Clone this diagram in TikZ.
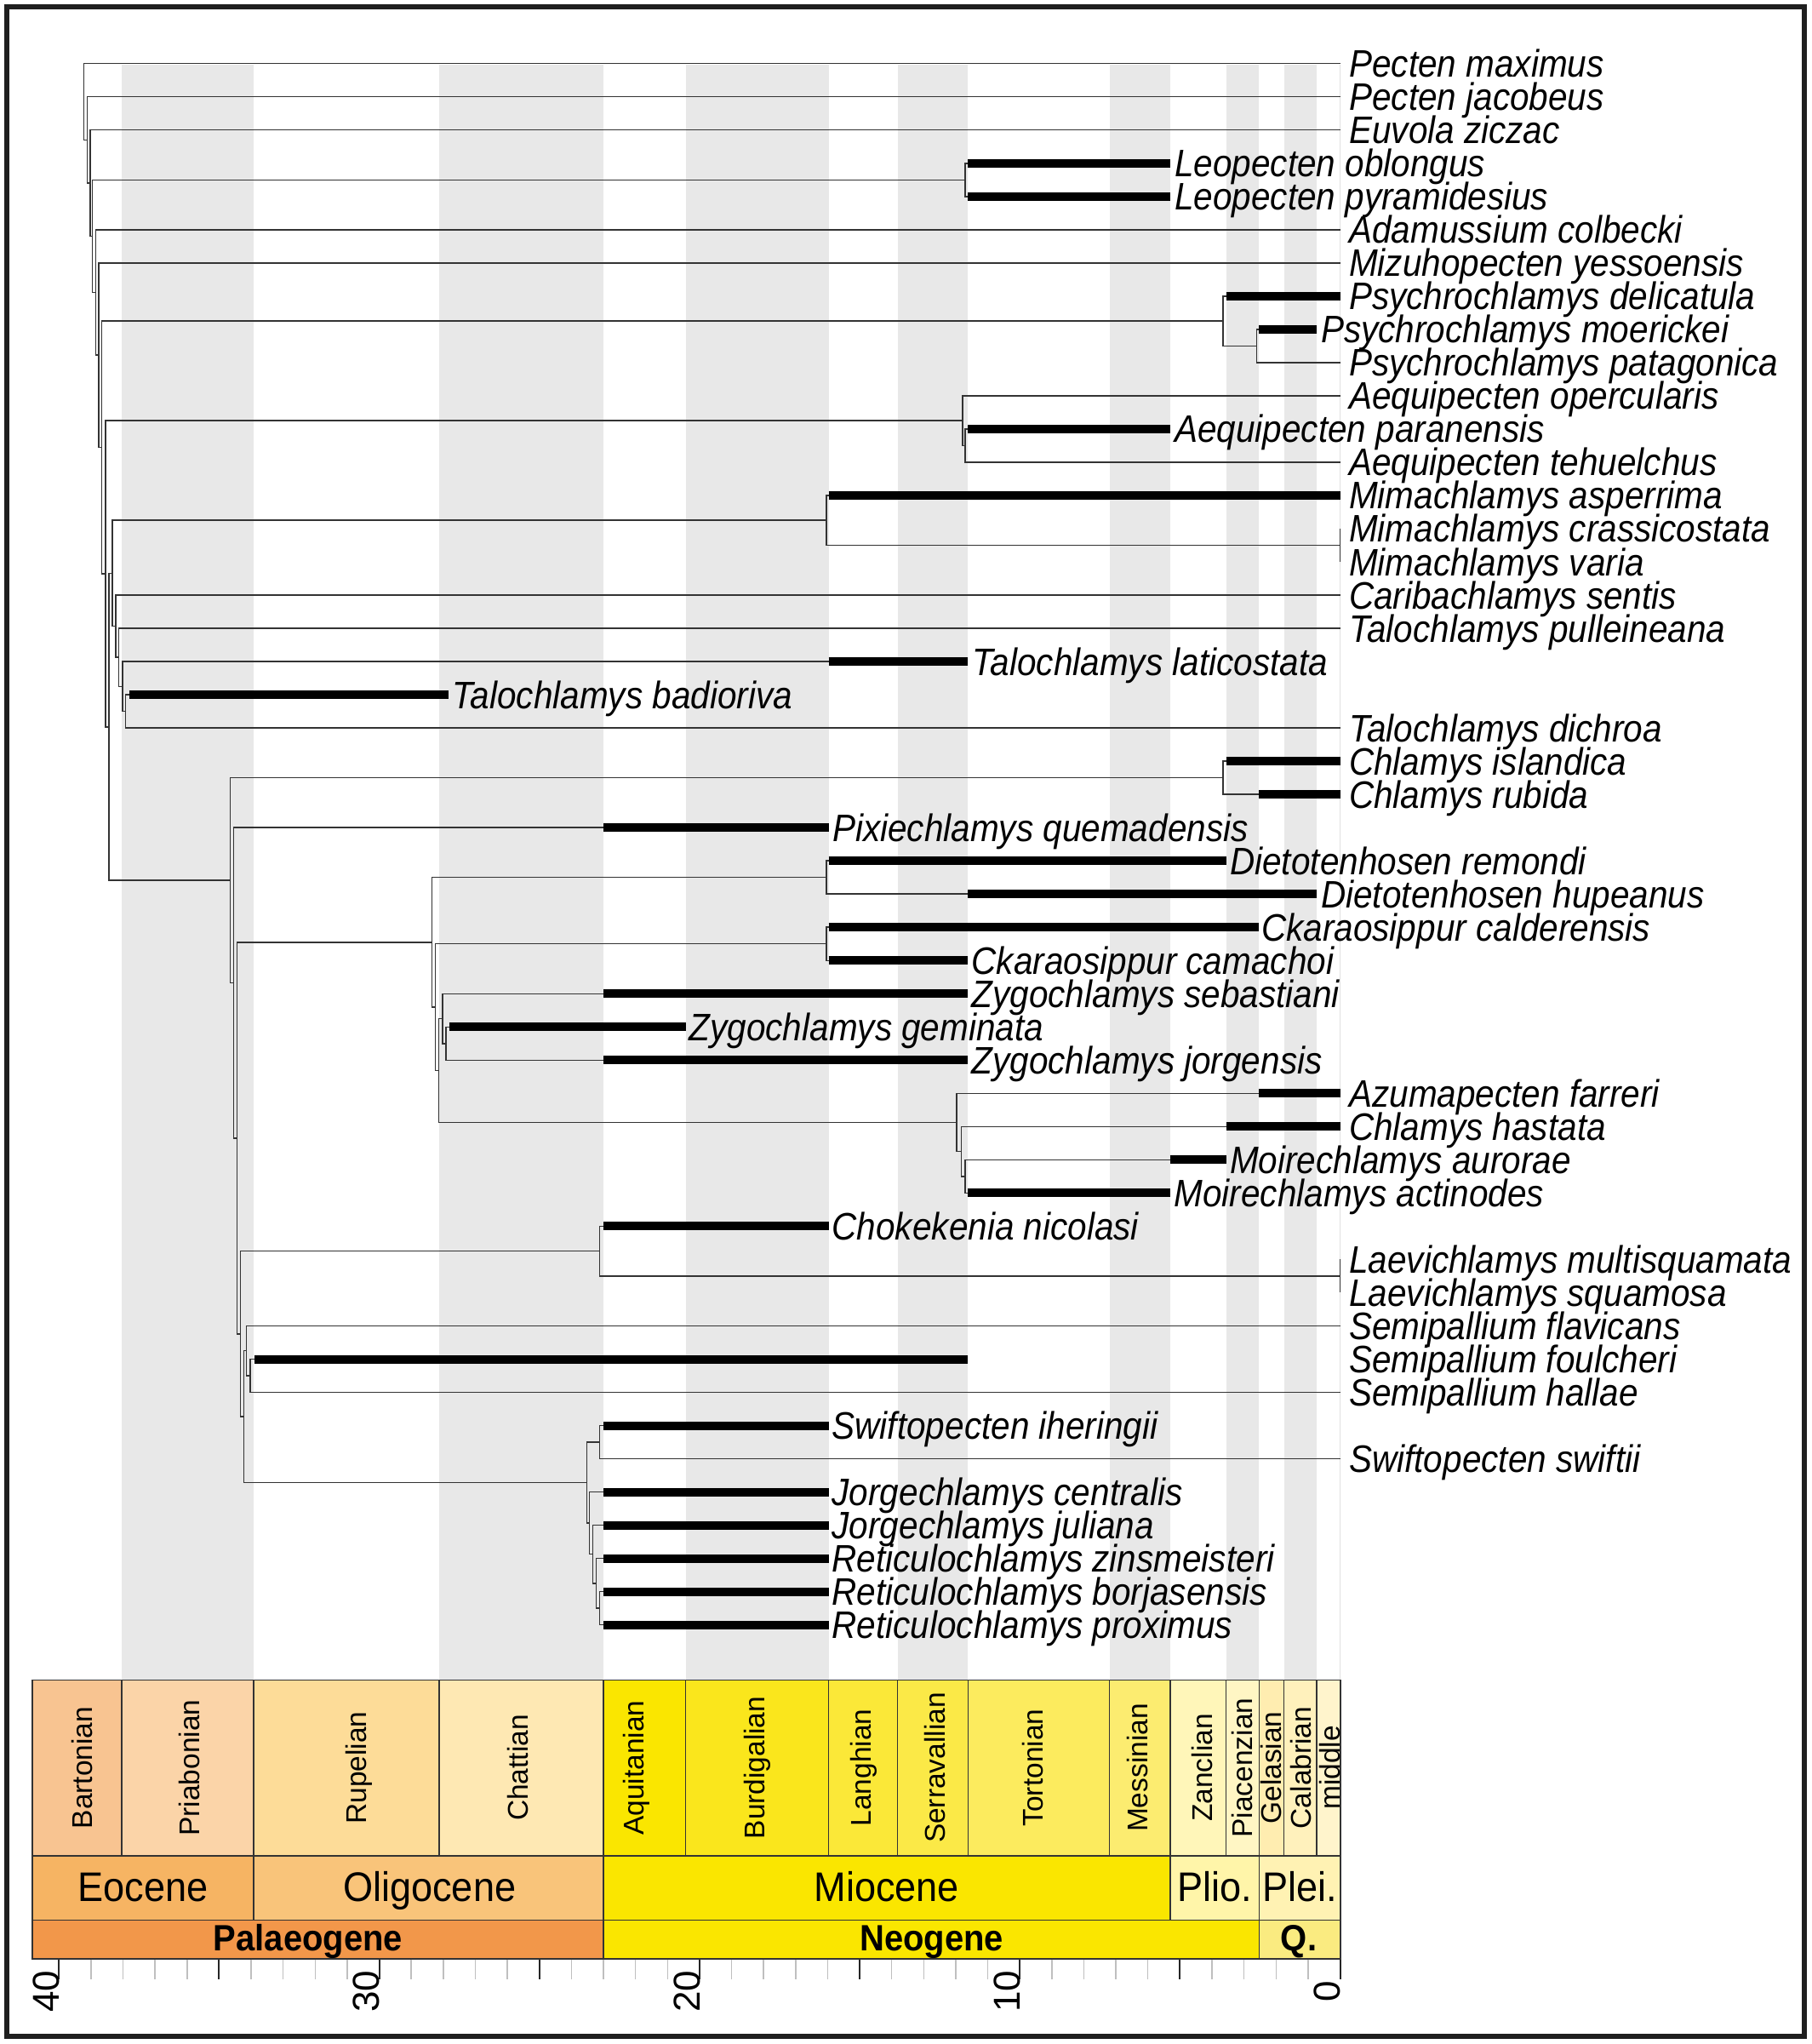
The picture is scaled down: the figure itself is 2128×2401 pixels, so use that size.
\documentclass[tikz,border=0pt]{standalone}
\usepackage{fontspec}
\setmainfont{Liberation Sans}
\newfontfamily\narrowsans{Liberation Sans}[FakeStretch=0.9]
\newfontfamily\narrowsansb{Liberation Sans}[FakeStretch=0.93]
\newcommand\rowy[1]{74.7+39.02*(#1-1)}
\newcommand\spfont{\narrowsans\fontsize{45}{48}\selectfont\itshape}
\newcommand\stgfont{\fontsize{33.5}{36}\selectfont}
\newcommand\serfont{\narrowsansb\fontsize{48.5}{52}\selectfont}
\newcommand\perfont{\narrowsansb\fontsize{43}{46}\selectfont\bfseries}
\newcommand\numfont{\fontsize{44}{46}\selectfont}
\definecolor{cBart}{HTML}{F8C491}
\definecolor{cPria}{HTML}{FBD4A8}
\definecolor{cRupe}{HTML}{FDDC98}
\definecolor{cChat}{HTML}{FEE8B3}
\definecolor{cAqui}{HTML}{FAE600}
\definecolor{cBurd}{HTML}{FAE61C}
\definecolor{cLang}{HTML}{FBE838}
\definecolor{cSerr}{HTML}{FBE947}
\definecolor{cTort}{HTML}{FCEB5E}
\definecolor{cMess}{HTML}{FCEC70}
\definecolor{cZanc}{HTML}{FFF6B9}
\definecolor{cPiac}{HTML}{FFF6C4}
\definecolor{cGela}{HTML}{FFEDB0}
\definecolor{cCala}{HTML}{FFF1BC}
\definecolor{cMidd}{HTML}{FFF4CC}
\definecolor{cEoc}{HTML}{F6B463}
\definecolor{cOli}{HTML}{F9C47A}
\definecolor{cMio}{HTML}{FAE600}
\definecolor{cPlio}{HTML}{FFF5A9}
\definecolor{cPlei}{HTML}{FFF2B3}
\definecolor{cPal}{HTML}{F2974A}
\definecolor{cNeo}{HTML}{FAE600}
\definecolor{cQ}{HTML}{FAEB80}
\begin{document}
\begin{tikzpicture}[x=1pt,y=-1pt,
  thinl/.style={draw=black!80,line width=1.5pt},
  barl/.style={draw=black,line width=10pt},
  lbl/.style={anchor=base west,inner sep=0pt,font=\spfont},
  cell/.style={draw=black!80,line width=1.6pt},
  stg/.style={rotate=90,inner sep=0pt,font=\stgfont},
  ser/.style={anchor=base,inner sep=0pt,font=\serfont},
  per/.style={anchor=base,inner sep=0pt,font=\perfont},
  tnum/.style={rotate=90,anchor=south,inner sep=0pt,font=\numfont}]
\fill[white] (0,0) rectangle (2128,2401);
\useasboundingbox (0,0) rectangle (2128,2401);
% grey stage bands
\foreach \a/\b in {142.8/298.1,516.2/709.2,805.5/973.6,1054.6/1137.3,1303.6/1374.7,1440.6/1479.3,1508.6/1546.8}
  \fill[black!9] (\a,76) rectangle (\b,1973.3);
\draw[black!12,line width=1.5pt] (1574.5,76) -- (1574.5,1973.3);
% internal nodes
\coordinate (n1) at (98.5,{\rowy{2.14927864}});
\coordinate (n2) at (102.5,{\rowy{3.29855728}});
\coordinate (n3) at (106,{\rowy{4.59711456}});
\coordinate (n4) at (108.5,{\rowy{6.19422913}});
\coordinate (leo) at (1134,{\rowy{4.5}});
\coordinate (n5) at (112.5,{\rowy{7.88845825}});
\coordinate (n6) at (116,{\rowy{9.7769165}});
\coordinate (n7) at (119.5,{\rowy{12.55383301}});
\coordinate (psy) at (1437,{\rowy{8.75}});
\coordinate (psyp) at (1476.5,{\rowy{9.5}});
\coordinate (n8) at (124,{\rowy{16.35766602}});
\coordinate (aeq) at (1131,{\rowy{11.75}});
\coordinate (aeqp) at (1134,{\rowy{12.5}});
\coordinate (n9) at (128,{\rowy{20.96533203}});
\coordinate (n10) at (132,{\rowy{16.34375}});
\coordinate (mim) at (971,{\rowy{14.75}});
\coordinate (mimp) at (1574.5,{\rowy{15.5}});
\coordinate (n11) at (136,{\rowy{17.9375}});
\coordinate (n12) at (139.5,{\rowy{18.875}});
\coordinate (n13) at (144,{\rowy{19.75}});
\coordinate (n14) at (147.5,{\rowy{20.5}});
\coordinate (nA) at (270.3,{\rowy{25.58691406}});
\coordinate (chl) at (1437,{\rowy{22.5}});
\coordinate (nB) at (274.5,{\rowy{28.67382813}});
\coordinate (nC) at (278.3,{\rowy{33.34765625}});
\coordinate (nD) at (507.3,{\rowy{27.453125}});
\coordinate (dieto) at (971,{\rowy{25.5}});
\coordinate (nDa) at (511.7,{\rowy{29.40625}});
\coordinate (ckara) at (971,{\rowy{27.5}});
\coordinate (nDb) at (515.7,{\rowy{31.3125}});
\coordinate (zyg) at (520,{\rowy{29.75}});
\coordinate (zygp) at (524,{\rowy{30.5}});
\coordinate (azu) at (1124,{\rowy{32.875}});
\coordinate (nX) at (1129.6,{\rowy{33.75}});
\coordinate (nY) at (1133.8,{\rowy{34.5}});
\coordinate (nE) at (282.3,{\rowy{39.2421875}});
\coordinate (choke) at (704.3,{\rowy{36.75}});
\coordinate (laev) at (1574.5,{\rowy{37.5}});
\coordinate (nF) at (286.3,{\rowy{41.734375}});
\coordinate (nG) at (289.7,{\rowy{39.75}});
\coordinate (nH) at (294,{\rowy{40.5}});
\coordinate (nS) at (689.3,{\rowy{43.71875}});
\coordinate (swp) at (704.7,{\rowy{42.5}});
\coordinate (nSa) at (692.7,{\rowy{44.9375}});
\coordinate (nSb) at (696.7,{\rowy{45.875}});
\coordinate (nSc) at (700.7,{\rowy{46.75}});
\coordinate (nSd) at (704.7,{\rowy{47.5}});
% leaves: row / line end or bar start / bar end / label x / name
\foreach \rw/\xs/\xe/\xl/\nm in {
 1/1574.5/1574.5/1585/Pecten maximus,
 2/1574.5/1574.5/1585/Pecten jacobeus,
 3/1574.5/1574.5/1585/Euvola ziczac,
 4/1137.3/1374.7/1380/Leopecten oblongus,
 5/1137.3/1374.7/1380/Leopecten pyramidesius,
 6/1574.5/1574.5/1585/Adamussium colbecki,
 7/1574.5/1574.5/1585/Mizuhopecten yessoensis,
 8/1440.6/1574.5/1585/Psychrochlamys delicatula,
 9/1479.3/1546.8/1552/Psychrochlamys moerickei,
 10/1574.5/1574.5/1585/Psychrochlamys patagonica,
 11/1574.5/1574.5/1585/Aequipecten opercularis,
 12/1137.3/1374.7/1380/Aequipecten paranensis,
 13/1574.5/1574.5/1585/Aequipecten tehuelchus,
 14/973.6/1574.5/1585/Mimachlamys asperrima,
 15/1574.5/1574.5/1585/Mimachlamys crassicostata,
 16/1574.5/1574.5/1585/Mimachlamys varia,
 17/1574.5/1574.5/1585/Caribachlamys sentis,
 18/1574.5/1574.5/1585/Talochlamys pulleineana,
 19/973.6/1137.3/1142.5/Talochlamys laticostata,
 20/151.7/527/531.5/Talochlamys badioriva,
 21/1574.5/1574.5/1585/Talochlamys dichroa,
 22/1440.6/1574.5/1585/Chlamys islandica,
 23/1479.3/1574.5/1585/Chlamys rubida,
 24/709.2/973.6/978/Pixiechlamys quemadensis,
 25/973.6/1440.6/1445/Dietotenhosen remondi,
 26/1137.3/1546.8/1552/Dietotenhosen hupeanus,
 27/973.6/1479.3/1482/Ckaraosippur calderensis,
 28/973.6/1137.3/1141.5/Ckaraosippur camachoi,
 29/709.2/1137.3/1141.5/Zygochlamys sebastiani,
 30/527.7/805.5/809.5/Zygochlamys geminata,
 31/709.2/1137.3/1141.5/Zygochlamys jorgensis,
 32/1479.3/1574.5/1585/Azumapecten farreri,
 33/1440.6/1574.5/1585/Chlamys hastata,
 34/1374.7/1440.6/1445/Moirechlamys aurorae,
 35/1137.3/1374.7/1379.5/Moirechlamys actinodes,
 36/709.2/973.6/977.5/Chokekenia nicolasi,
 37/1574.5/1574.5/1585/Laevichlamys multisquamata,
 38/1574.5/1574.5/1585/Laevichlamys squamosa,
 39/1574.5/1574.5/1585/Semipallium flavicans,
 40/298.5/1137.3/1585/Semipallium foulcheri,
 41/1574.5/1574.5/1585/Semipallium hallae,
 42/709.2/973.6/977.5/Swiftopecten iheringii,
 43/1574.5/1574.5/1585/Swiftopecten swiftii,
 44/709.2/973.6/977.5/Jorgechlamys centralis,
 45/709.2/973.6/977.5/Jorgechlamys juliana,
 46/709.2/973.6/977.5/Reticulochlamys zinsmeisteri,
 47/709.2/973.6/977.5/Reticulochlamys borjasensis,
 48/709.2/973.6/977.5/Reticulochlamys proximus}{
  \coordinate (l\rw) at (\xs,{\rowy{\rw}});
  \coordinate (e\rw) at (\xe,{\rowy{\rw}});
  \node[lbl] (t\rw) at (\xl,{\rowy{\rw}+16}) {\nm};
}
% branches
\foreach \p/\c in {n1/l1,n1/n2,n2/l2,n2/n3,n3/l3,n3/n4,n4/leo,n4/n5,leo/l4,leo/l5,
  n5/l6,n5/n6,n6/l7,n6/n7,n7/psy,n7/n8,psy/l8,psy/psyp,psyp/l9,psyp/l10,
  n8/aeq,n8/n9,aeq/l11,aeq/aeqp,aeqp/l12,aeqp/l13,n9/n10,n9/nA,
  n10/mim,n10/n11,mim/l14,mim/mimp,mimp/l15,mimp/l16,
  n11/l17,n11/n12,n12/l18,n12/n13,n13/l19,n13/n14,n14/l20,n14/l21,
  nA/chl,nA/nB,chl/l22,chl/l23,nB/l24,nB/nC,nC/nD,nC/nE,
  nD/dieto,nD/nDa,dieto/l25,dieto/l26,nDa/ckara,nDa/nDb,ckara/l27,ckara/l28,
  nDb/zyg,nDb/azu,zyg/l29,zyg/zygp,zygp/l30,zygp/l31,
  azu/l32,azu/nX,nX/l33,nX/nY,nY/l34,nY/l35,
  nE/choke,nE/nF,choke/l36,choke/laev,laev/l37,laev/l38,
  nF/nG,nF/nS,nG/l39,nG/nH,nH/l40,nH/l41,
  nS/swp,nS/nSa,swp/l42,swp/l43,nSa/l44,nSa/nSb,nSb/l45,nSb/nSc,nSc/l46,nSc/nSd,nSd/l47,nSd/l48}
  \draw[thinl] (\p) |- (\c);
% stratigraphic ranges
\foreach \rw in {4,5,8,9,12,14,19,20,22,23,24,25,26,27,28,29,30,31,32,33,34,35,36,40,42,44,45,46,47,48}
  \draw[barl] (l\rw) -- (e\rw);
% stages
\foreach \a/\b/\c/\cx/\nm [count=\i] in {37.7/142.8/cBart/96.8/Bartonian,
  142.8/298.1/cPria/222.3/Priabonian,298.1/516.2/cRupe/421.6/Rupelian,
  516.2/709.2/cChat/609/Chattian,709.2/805.5/cAqui/748/Aquitanian,
  805.5/973.6/cBurd/889.4/Burdigalian,973.6/1054.6/cLang/1015/Langhian,
  1054.6/1137.3/cSerr/1098.6/Serravallian,1137.3/1303.6/cTort/1213.7/Tortonian,
  1303.6/1374.7/cMess/1336.6/Messinian,1374.7/1440.6/cZanc/1412.4/Zanclian,
  1440.6/1479.3/cPiac/1459.5/Piacenzian,1479.3/1508.6/cGela/1494/Gelasian,
  1508.6/1546.8/cCala/1528.5/Calabrian,1546.8/1575/cMidd/1562.8/middle}{
  \draw[cell,fill=\c] (\a,1973.3) rectangle (\b,2180);
  \node[stg] (st\i) at (\cx,2076.5) {\nm};
}
% series
\foreach \a/\b/\c/\cx/\nm [count=\i] in {37.7/298.1/cEoc/168.1/Eocene,
  298.1/709.2/cOli/504.7/Oligocene,709.2/1374.7/cMio/1041.8/Miocene,
  1374.7/1479.3/cPlio/1427.5/Plio.,1479.3/1575/cPlei/1527.5/Plei.}{
  \draw[cell,fill=\c] (\a,2180) rectangle (\b,2255.3);
  \node[ser] (se\i) at (\cx,2233) {\nm};
}
% periods
\foreach \a/\b/\c/\cx/\nm [count=\i] in {37.7/709.2/cPal/362/Palaeogene,
  709.2/1479.3/cNeo/1094.7/Neogene,1479.3/1575/cQ/1526/Q.}{
  \draw[cell,fill=\c] (\a,2255.3) rectangle (\b,2300.7);
  \node[per] (pe\i) at (\cx,2291) {\nm};
}
% time axis
\foreach \t in {0,...,40}{
  \pgfmathsetmacro\tx{1574.5-37.63*\t}
  \pgfmathtruncatemacro\m{mod(\t,5)}
  \ifnum\m=0
    \draw[black!85,line width=2pt] (\tx,2301.5) -- (\tx,2325);
  \else
    \draw[black!25,line width=1.5pt] (\tx,2301.5) -- (\tx,2325);
  \fi
}
\foreach \t in {0,10,20,30,40}
  \node[tnum] (ax\t) at ({1575.5-37.63*\t},2339) {\t};
% frame
\draw[black!88,line width=6pt] (8.4,8) rectangle (2120,2392);
\end{tikzpicture}
\end{document}
